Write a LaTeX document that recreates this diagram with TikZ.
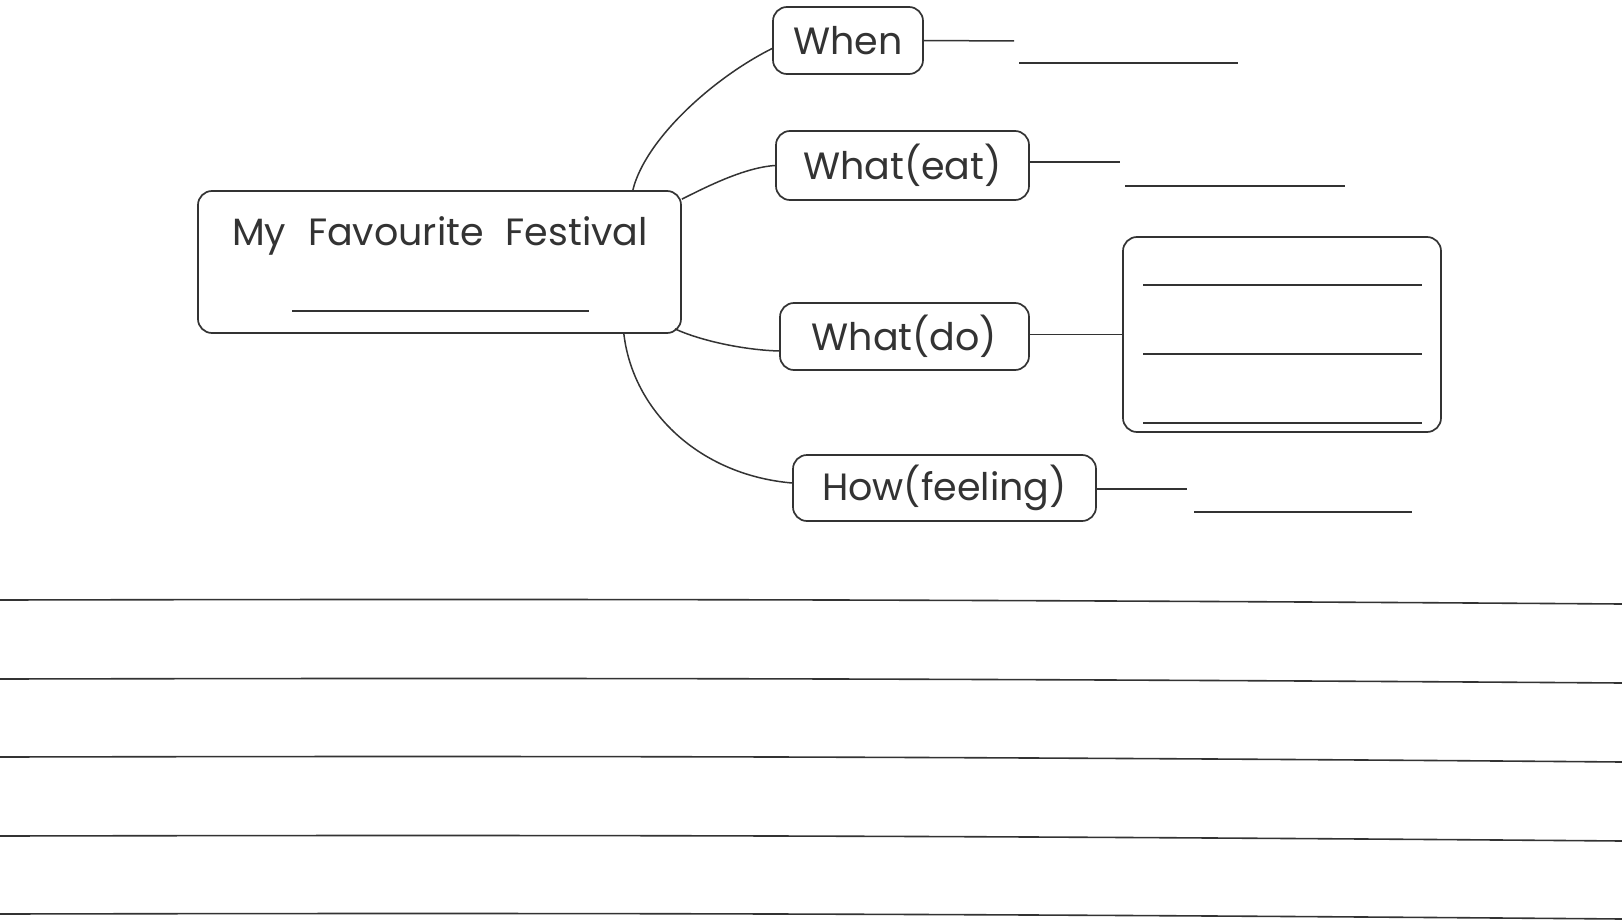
\documentclass[tikz,border=0pt]{standalone}
\usepackage{fontspec}
\setmainfont{Poppins}
\usetikzlibrary{calc}
\definecolor{ink}{HTML}{333333}
\tikzset{
  box/.style={draw=ink, line width=1.7pt, rounded corners=14pt, text=ink, inner sep=0pt, font=\fontsize{38}{44}\selectfont},
  link/.style={draw=ink, line width=1.5pt},
  blank/.style={draw=ink, line width=1.6pt},
}
\begin{document}
\begin{tikzpicture}[x=1pt,y=-1pt]
\useasboundingbox (0,0) rectangle (1622,923);
\fill[white] (0,0) rectangle (1622,923);
% nodes
\node[box, minimum width=483pt, minimum height=142pt] (main) at (439.5,262) {};
\node[text=ink, font=\fontsize{38}{44}\selectfont] (title) at (440,236) {My\hspace{22pt}Favourite\hspace{22pt}Festival};
\node[box, minimum width=150pt, minimum height=67pt] (when) at (848,40.5) {When};
\node[box, minimum width=253pt, minimum height=69pt] (eat) at (902.5,165.5) {What(eat)};
\node[box, minimum width=249pt, minimum height=67pt] (do) at (904.5,336.5) {What(do)};
\node[box, minimum width=303pt, minimum height=66pt] (how) at (944.5,488) {How(feeling)};
\node[box, minimum width=318pt, minimum height=195pt] (list) at (1282,334.5) {};
% connectors from main
\draw[link] ($(main.north east)+(-49,0)$) .. controls +(12,-50) and +(-60,30) .. ($(when.west)+(0,8)$);
\draw[link] ($(main.north east)+(0,9)$) .. controls +(24,-12) and +(-31,2) .. (eat.west);
\draw[link] ($(main.south east)+(-7,-5)$) .. controls +(26,12) and +(-35,-1) .. ($(do.west)+(0,14.5)$);
\draw[link] ($(main.south east)+(-58,0)$) .. controls +(9,77) and +(-93,-8) .. ($(how.west)+(0,-5)$);
% side stubs
\coordinate (whenend) at (1014,41);
\coordinate (eatend) at (1120,162);
\coordinate (howend) at (1187,489);
\draw[link] (when.east) -- (whenend);
\draw[link] ($(eat.east)+(0,-3.5)$) -- (eatend);
\draw[link] (do.east |- list.west) -- (list.west);
\draw[link] ($(how.east)+(0,1)$) -- (howend);
% blanks
\draw[blank] (292,311) -- (589,311);
\draw[blank] (1019,63) -- (1238,63);
\draw[blank] (1125,186) -- (1345,186);
\draw[blank] (1194,512) -- (1412,512);
\draw[blank] (1143,285) -- (1422,285);
\draw[blank] (1143,354) -- (1422,354);
\draw[blank] (1143,423) -- (1422,423);
% ruled lines
\foreach \a/\b in {600/604, 679/683, 757/762, 836/841, 914/919}{
  \draw[blank] (0,\a) .. controls (500,\a-1) and (900,\a-1) .. (1622,\b);
}
\end{tikzpicture}
\end{document}
